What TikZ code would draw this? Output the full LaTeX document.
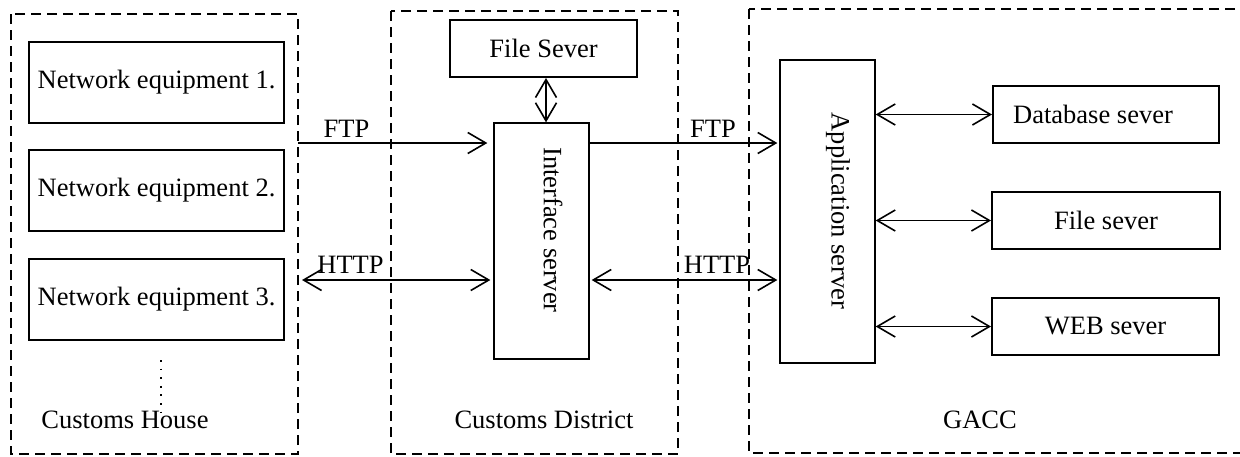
\documentclass[tikz,border=0pt]{standalone}
\usepackage{fontspec}
\setmainfont{Liberation Serif}
\usetikzlibrary{arrows.meta}
\tikzset{
  region/.style={draw, line width=1.3pt, dash pattern=on 5pt off 3pt},
  unit/.style={draw, line width=1pt, inner sep=0pt, anchor=center},
  thinunit/.style={draw, line width=0.65pt, inner sep=0pt, anchor=center},
  txt/.style={font=\fontsize{13.25}{15}\selectfont, inner sep=0pt},
  link/.style={line width=0.8pt, -{Straight Barb[length=9pt,width=10.5pt,line width=0.8pt]}},
  duplex/.style={line width=0.8pt, {Straight Barb[length=9pt,width=10.5pt,line width=0.8pt]}-{Straight Barb[length=9pt,width=10.5pt,line width=0.8pt]}},
}
\begin{document}
\begin{tikzpicture}[x=0.5pt,y=-0.5pt]
\useasboundingbox (0,0) rectangle (1240,456);
\clip (0,0) rectangle (1240,456);
\fill[white] (0,0) rectangle (1240,456);

% three dashed regions
\draw[region] (11,14) rectangle (298,454);
\draw[region] (391,11) rectangle (678,454);
\draw[region] (749,9) rectangle (1260,453);
\coordinate (houseE) at (298,143);

% Customs House
\node[unit, txt, minimum width=127.5pt, minimum height=40.5pt] (ne1) at (156.5,82.5) {Network equipment 1.};
\node[unit, txt, minimum width=127.5pt, minimum height=40.5pt] (ne2) at (156.5,190.5) {Network equipment 2.};
\node[unit, txt, minimum width=127.5pt, minimum height=40.5pt] (ne3) at (156.5,299.5) {Network equipment 3.};
\draw[line width=1.3pt, dash pattern=on 0.9pt off 3.4pt] (161,360) -- (161,412);
\node[txt, anchor=base] (lhouse) at (125,428) {Customs House};

% Customs District
\node[unit, txt, minimum width=93.5pt, minimum height=28.5pt] (filesv) at (543.5,48.5) {File Sever};
\node[thinunit, minimum width=47.5pt, minimum height=118pt] (iface) at (541.5,241) {};
\node[txt, rotate=-90] (tiface) at (553,230) {Interface server};
\node[txt, anchor=base] (ldistrict) at (544,428) {Customs District};

% GACC
\node[thinunit, minimum width=47.5pt, minimum height=151.5pt] (app) at (827.5,211.5) {};
\node[txt, rotate=-90] (tapp) at (838,211) {Application server};
\node[unit, minimum width=113pt, minimum height=28.5pt] (db) at (1106,114.5) {};
\node[txt] (tdb) at (1093,114) {Database sever};
\node[unit, txt, minimum width=114pt, minimum height=28.5pt] (fs) at (1106,220.5) {File sever};
\node[unit, txt, minimum width=113.5pt, minimum height=28.5pt] (web) at (1105.5,326.5) {WEB sever};
\node[txt, anchor=base] (lgacc) at (980,428) {GACC};

% connectors
\coordinate (ftpY) at (0,143);
\coordinate (httpY) at (0,280);
\coordinate (httpL) at (302,280);
\draw[link, shorten >=3pt] (houseE) -- (iface.west |- ftpY);
\draw[duplex, shorten >=1.5pt] (httpL) -- (iface.west |- httpY);
\draw[link, shorten >=1pt] (iface.east |- ftpY) -- (app.west |- ftpY);
\draw[duplex, shorten <=1pt, shorten >=1pt] (iface.east |- httpY) -- (app.west |- httpY);
\draw[duplex] (filesv.south -| 546,0) -- (iface.north -| 546,0);
\draw[duplex] (app.east |- db.west) -- (db.west);
\draw[duplex] (app.east |- fs.west) -- (fs.west);
\draw[duplex] (app.east |- web.west) -- (web.west);

% protocol labels
\node[txt, anchor=base] (ftp1) at (346.5,137) {FTP};
\node[txt, anchor=base] (http1) at (350.5,273) {HTTP};
\node[txt, anchor=base] (ftp2) at (713,137) {FTP};
\node[txt, anchor=base] (http2) at (717,273) {HTTP};
\end{tikzpicture}
\end{document}
